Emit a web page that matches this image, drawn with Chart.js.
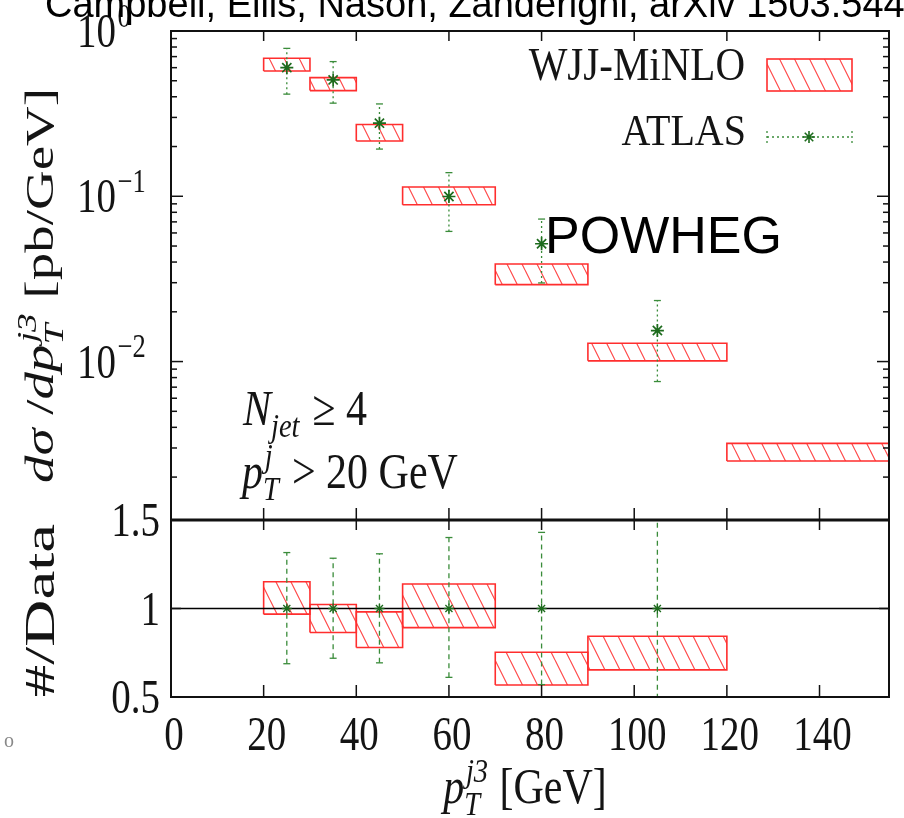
<!DOCTYPE html>
<html>
<head>
<meta charset="utf-8">
<script src="https://cdn.jsdelivr.net/npm/chart.js@4.4.0/dist/chart.umd.min.js"></script>
<style>
  html, body { margin: 0; padding: 0; background: #fff; overflow: hidden; }
  #wrap { position: relative; width: 904px; height: 818px; }
</style>
</head>
<body>
<div id="wrap"><canvas id="WjjChart" width="904" height="818"></canvas></div>
<script>
// values (p_T^j3 in GeV, cross sections in pb/GeV)
var binEdges  = [20, 30, 40, 50, 70, 90, 120, 155];
var minloLow  = [0.573, 0.436, 0.216, 0.0889, 0.0292, 0.0101, 0.0025];
var minloHigh = [0.684, 0.522, 0.272, 0.1137, 0.0389, 0.0129, 0.0032];

var atlasX    = [25, 35, 45, 60, 80, 105];
var atlasY    = [0.60, 0.506, 0.277, 0.0997, 0.0516, 0.0154];
var atlasLow  = [0.415, 0.366, 0.193, 0.0613, 0.0299, 0.00757];
var atlasHigh = [0.785, 0.653, 0.362, 0.139, 0.0728, 0.0234];

// ratio panel (#/Data)
var ratioLow     = [0.968, 0.864, 0.780, 0.892, 0.568, 0.653];
var ratioHigh    = [1.151, 1.023, 0.981, 1.138, 0.753, 0.843];
var ratioErrLow  = [0.688, 0.719, 0.693, 0.611, 0.570, 0.49];
var ratioErrHigh = [1.316, 1.284, 1.309, 1.401, 1.430, 1.52];

// ticks
var xTicks     = [0, 20, 40, 60, 80, 100, 120, 140];
var logMajor   = [1, 0.1, 0.01];
var logMinor   = [0.002, 0.003, 0.004, 0.005, 0.006, 0.007, 0.008, 0.009,
                  0.02, 0.03, 0.04, 0.05, 0.06, 0.07, 0.08, 0.09,
                  0.2, 0.3, 0.4, 0.5, 0.6, 0.7, 0.8, 0.9];
var ratioTicks = [0.5, 1, 1.5];

var RED = '#ff2e2e';
var GREEN = '#3a8c3a';
var DARKGREEN = '#1d6b1d';
var SERIF = '"Liberation Serif", "Times New Roman", serif';
var SANS = '"Liberation Sans", Arial, sans-serif';

function makeHatch() {
  var p = document.createElement('canvas');
  p.width = 15; p.height = 30;
  var g = p.getContext('2d');
  g.strokeStyle = '#ff4a4a';
  g.lineWidth = 1.2;
  g.beginPath();
  for (var k = -1; k <= 1; k++) {
    g.moveTo(k * 15, 0);
    g.lineTo(k * 15 + 15, 30);
  }
  g.stroke();
  return document.getElementById('WjjChart').getContext('2d').createPattern(p, 'repeat');
}
var hatch = makeHatch();

// one closed rectangle per bin, filled with the hatch
function bandDatasets(lows, highs, axis) {
  var out = [];
  for (var i = 0; i < lows.length; i++) {
    var a = binEdges[i], b = binEdges[i + 1];
    out.push({
      data: [{x: a, y: lows[i]}, {x: a, y: highs[i]}, {x: b, y: highs[i]}, {x: b, y: lows[i]}, {x: a, y: lows[i]}],
      yAxisID: axis,
      borderColor: RED,
      borderWidth: 1.6,
      backgroundColor: hatch,
      fill: 'shape',
      tension: 0,
      pointRadius: 0,
      order: 3
    });
  }
  return out;
}

function errorDatasets(lows, highs, axis, dash) {
  var out = [];
  for (var i = 0; i < atlasX.length; i++) {
    out.push({
      data: [{x: atlasX[i], y: lows[i]}, {x: atlasX[i], y: highs[i]}],
      yAxisID: axis,
      borderColor: GREEN,
      borderWidth: 1.3,
      borderDash: dash,
      pointStyle: 'line',
      pointRadius: 3.5,
      pointBorderColor: GREEN,
      pointBorderWidth: 1.3,
      order: 1
    });
  }
  return out;
}

var datasets = [];
datasets = datasets.concat(bandDatasets(minloLow, minloHigh, 'y'));
datasets = datasets.concat(bandDatasets(ratioLow, ratioHigh, 'yr'));
datasets = datasets.concat(errorDatasets(atlasLow, atlasHigh, 'y', [2, 3]));
datasets = datasets.concat(errorDatasets(ratioErrLow, ratioErrHigh, 'yr', [5, 4]));
datasets.push({
  data: atlasX.map(function (x, i) { return {x: x, y: atlasY[i]}; }),
  yAxisID: 'y', showLine: false,
  pointStyle: 'star', pointRadius: 6.5, pointBorderColor: DARKGREEN, pointBorderWidth: 1.7,
  order: 0
});
datasets.push({
  // data / data
  data: atlasX.map(function (x, i) { return {x: x, y: atlasY[i] / atlasY[i]}; }),
  yAxisID: 'yr', showLine: false,
  pointStyle: 'star', pointRadius: 5, pointBorderColor: DARKGREEN, pointBorderWidth: 1.3,
  order: 0
});
datasets.push({
  data: [{x: 0, y: 1}, {x: 155, y: 1}],
  yAxisID: 'yr', borderColor: '#000', borderWidth: 1.6, pointRadius: 0, order: 2
});

// text helpers -- the original figure is stretched vertically, so glyphs are too
function drawRuns(ctx, runs, x, y, o) {
  var size = o.size || 38, sy = o.sy || 1.25;
  ctx.save();
  ctx.translate(x, y);
  if (o.rot) { ctx.rotate(o.rot); ctx.scale(sy, 1); } else { ctx.scale(1, sy); }
  ctx.fillStyle = o.color || '#141414';
  ctx.textBaseline = 'alphabetic';
  ctx.textAlign = 'left';
  function font(it, s) { return (it ? 'italic ' : '') + s + 'px ' + (o.family || SERIF); }
  // measure
  var total = 0, widths = [];
  runs.forEach(function (r) {
    var w;
    if (r.t !== undefined) {
      ctx.font = font(r.it, size);
      w = ctx.measureText(r.t).width;
    } else {
      ctx.font = font(r.it, size * 0.68);
      w = Math.max(r.sup ? ctx.measureText(r.sup).width : 0, r.sub ? ctx.measureText(r.sub).width : 0) + size * 0.06;
    }
    widths.push(w);
    total += w;
  });
  var cx = o.align === 'center' ? -total / 2 : (o.align === 'right' ? -total : 0);
  runs.forEach(function (r, i) {
    if (r.t !== undefined) {
      ctx.font = font(r.it, size);
      ctx.fillText(r.t, cx, 0);
    } else {
      ctx.font = font(r.it, size * 0.68);
      if (r.sup) ctx.fillText(r.sup, cx + size * 0.04, -size * 0.42);
      if (r.sub) ctx.fillText(r.sub, cx, size * 0.24);
    }
    cx += widths[i];
  });
  ctx.restore();
}

function tickLine(ctx, x1, y1, x2, y2) {
  ctx.beginPath(); ctx.moveTo(x1, y1); ctx.lineTo(x2, y2); ctx.stroke();
}

// keep each dataset inside its own panel
var panelClip = {
  id: 'panelClip',
  beforeDatasetDraw: function (chart, args) {
    var s = chart.scales[args.meta.yAxisID];
    var ctx = chart.ctx;
    ctx.save();
    ctx.beginPath();
    ctx.rect(chart.chartArea.left, s.top, chart.chartArea.right - chart.chartArea.left, s.bottom - s.top);
    ctx.clip();
  },
  afterDatasetDraw: function (chart) {
    chart.ctx.restore();
  }
};

var frame = {
  id: 'frame',
  afterDraw: function (chart) {
    var ctx = chart.ctx;
    var xs = chart.scales.x, y = chart.scales.y, yr = chart.scales.yr;
    var L = chart.chartArea.left, R = chart.chartArea.right;
    ctx.save();
    ctx.strokeStyle = '#111';
    ctx.lineWidth = 2;
    ctx.strokeRect(L, y.top, R - L, y.bottom - y.top);
    ctx.strokeRect(L, yr.top, R - L, yr.bottom - yr.top);
    ctx.lineWidth = 3;
    tickLine(ctx, L, y.bottom, R, y.bottom);

    ctx.lineWidth = 1.5;
    xTicks.forEach(function (v) {
      var px = xs.getPixelForValue(v);
      tickLine(ctx, px, y.top, px, y.top + 10);
      tickLine(ctx, px, y.bottom, px, y.bottom - 12);
      tickLine(ctx, px, yr.top, px, yr.top + 10);
      tickLine(ctx, px, yr.bottom, px, yr.bottom - 12);
    });
    logMajor.forEach(function (v) {
      var py = y.getPixelForValue(v);
      tickLine(ctx, L, py, L + 12, py);
      tickLine(ctx, R, py, R - 12, py);
    });
    logMinor.forEach(function (v) {
      var py = y.getPixelForValue(v);
      tickLine(ctx, L, py, L + 6, py);
      tickLine(ctx, R, py, R - 6, py);
    });
    ratioTicks.forEach(function (v) {
      var py = yr.getPixelForValue(v);
      tickLine(ctx, L, py, L + 10, py);
      tickLine(ctx, R, py, R - 10, py);
    });

    // tick labels
    xTicks.forEach(function (v) {
      drawRuns(ctx, [{t: String(v)}], xs.getPixelForValue(v) + 3, 750, {size: 39, align: 'center'});
    });
    logMajor.forEach(function (v) {
      var e = Math.round(Math.log10(v));
      var es = e < 0 ? '\u2212' + (-e) : String(e);
      drawRuns(ctx, [{t: '10'}, {sup: es}], 77, y.getPixelForValue(v) + 16, {size: 39});
    });
    ratioTicks.forEach(function (v) {
      drawRuns(ctx, [{t: String(v)}], L - 11, yr.getPixelForValue(v) + 16, {size: 39, align: 'right'});
    });

    // axis titles
    drawRuns(ctx, [{t: 'd\u03c3', it: true}, {t: ' /'}, {t: 'dp', it: true}, {sup: 'j3', sub: 'T', it: true}, {t: ' [pb/GeV]'}],
      53, (y.top + y.bottom) / 2 + 10, {size: 41, sy: 1.34, rot: -Math.PI / 2, align: 'center'});
    drawRuns(ctx, [{t: '#/Data'}], 54, (yr.top + yr.bottom) / 2 + 2, {size: 42, sy: 1.55, rot: -Math.PI / 2, align: 'center'});
    drawRuns(ctx, [{t: 'p', it: true}, {sup: 'j3', sub: 'T', it: true}, {t: ' [GeV]'}], 525, 803, {size: 42, sy: 1.2, align: 'center'});

    // cuts
    drawRuns(ctx, [{t: 'N', it: true}, {sub: 'jet', it: true}, {t: ' \u2265 4'}], 243, 425, {size: 42, sy: 1.2});
    drawRuns(ctx, [{t: 'p', it: true}, {sup: 'j', sub: 'T', it: true}, {t: ' > 20 GeV'}], 242, 488, {size: 42, sy: 1.2});

    // legend
    drawRuns(ctx, [{t: 'WJJ-MiNLO'}], 745, 80, {size: 41, sy: 1.12, align: 'right'});
    drawRuns(ctx, [{t: 'ATLAS'}], 746, 145, {size: 40, sy: 1.12, align: 'right'});
    ctx.fillStyle = hatch;
    ctx.fillRect(767, 59, 85, 32);
    ctx.strokeStyle = RED;
    ctx.lineWidth = 1.6;
    ctx.strokeRect(767, 59, 85, 32);
    ctx.strokeStyle = GREEN;
    ctx.lineWidth = 1.3;
    ctx.setLineDash([2, 3]);
    tickLine(ctx, 767, 137, 852, 137);
    tickLine(ctx, 767, 131, 767, 143);
    tickLine(ctx, 852, 131, 852, 143);
    ctx.setLineDash([]);
    ctx.strokeStyle = DARKGREEN;
    ctx.lineWidth = 1.6;
    Chart.helpers.drawPoint(ctx, {pointStyle: 'star', radius: 6, borderWidth: 1.6}, 809, 137);

    // overlaid labels of the slide
    ctx.fillStyle = '#000';
    ctx.textAlign = 'left';
    ctx.textBaseline = 'alphabetic';
    ctx.font = '52px ' + SANS;
    ctx.fillText('POWHEG', 545, 253);
    ctx.font = '38px ' + SANS;
    ctx.fillText('Campbell, Ellis, Nason, Zanderighi, arXiv 1503.5447', 45, 17);
    ctx.fillStyle = '#888';
    ctx.font = '20px ' + SERIF;
    ctx.fillText('o', 4, 747);
    ctx.restore();
  }
};

var wjjChart = new Chart(document.getElementById('WjjChart').getContext('2d'), {
  type: 'line',
  data: { datasets: datasets },
  options: {
    responsive: false,
    animation: false,
    layout: { padding: { top: 31, right: 15, left: 0, bottom: 0 } },
    plugins: { legend: { display: false }, tooltip: { enabled: false } },
    scales: {
      x: {
        type: 'linear', min: 0, max: 155,
        ticks: { display: false }, grid: { display: false }, border: { display: false },
        afterFit: function (s) { s.height = 121; }
      },
      yr: {
        type: 'linear', position: 'left', stack: 'panels', stackWeight: 177,
        min: 0.5, max: 1.5,
        ticks: { display: false }, grid: { display: false }, border: { display: false },
        afterFit: function (s) { s.width = 171; }
      },
      y: {
        type: 'logarithmic', position: 'left', stack: 'panels', stackWeight: 489,
        min: 0.0011, max: 1,
        ticks: { display: false }, grid: { display: false }, border: { display: false },
        afterFit: function (s) { s.width = 171; }
      }
    }
  },
  plugins: [panelClip, frame]
});
</script>
</body>
</html>
